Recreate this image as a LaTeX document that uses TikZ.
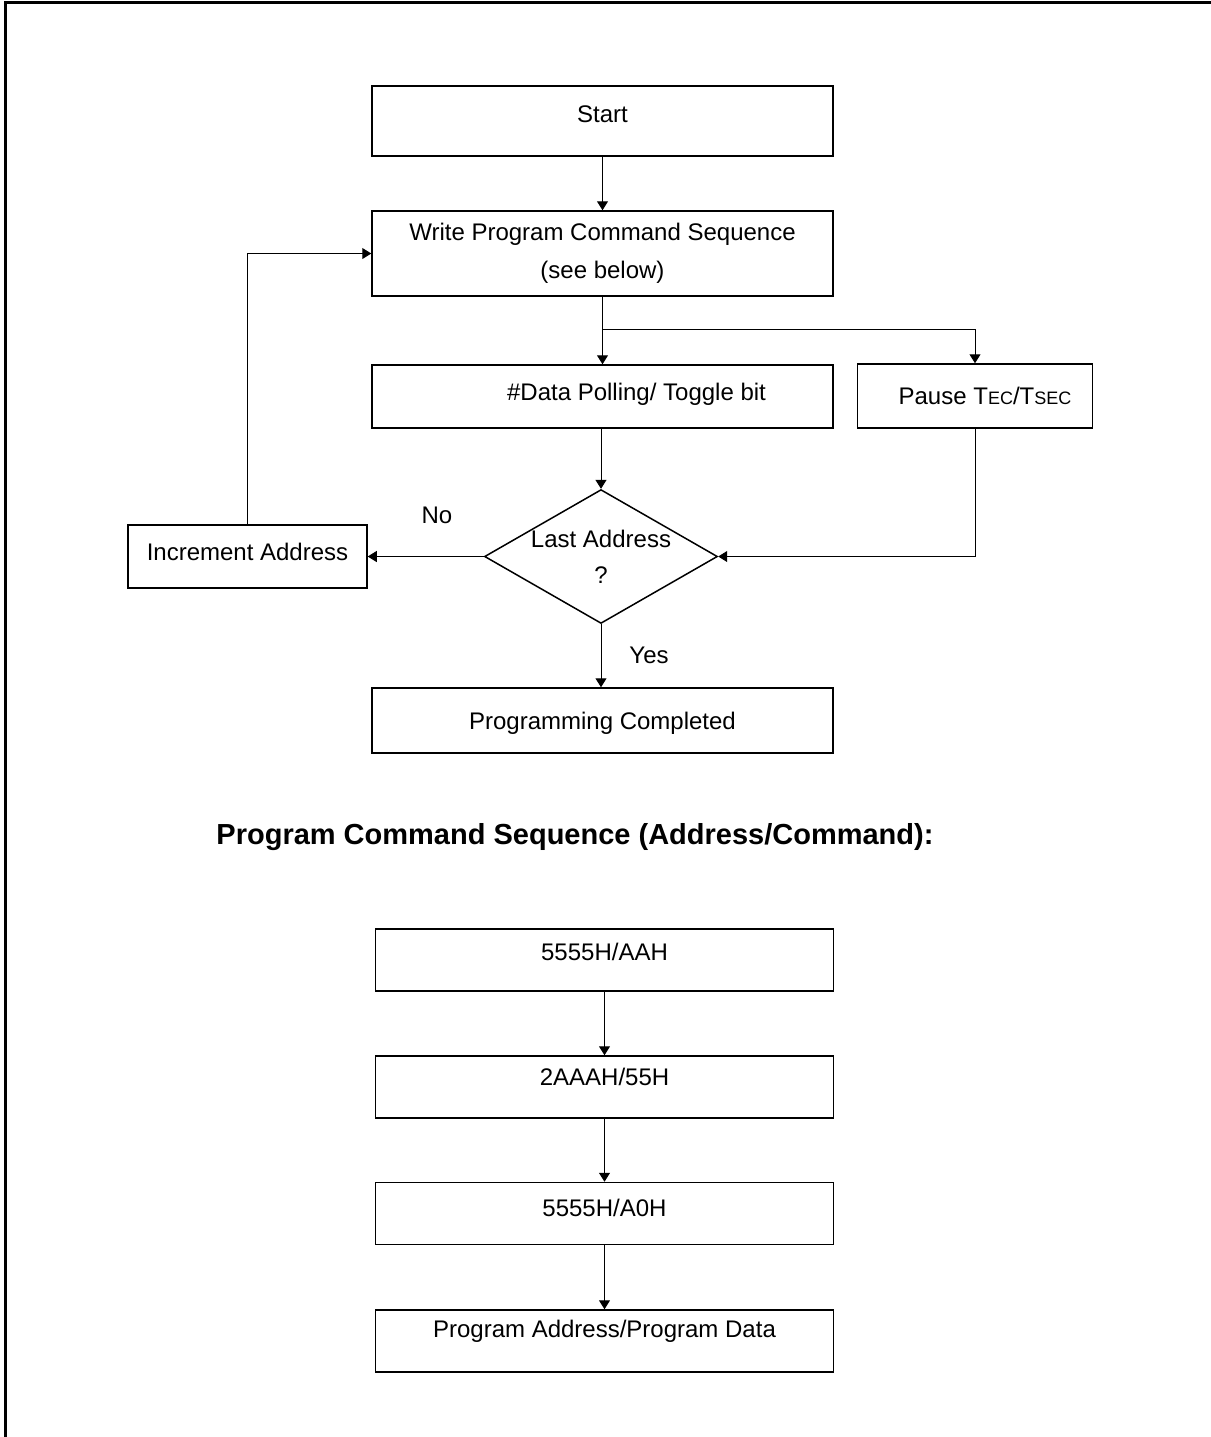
\documentclass[tikz,border=0pt]{standalone}
\usepackage{fontspec}
\setmainfont{Liberation Sans}
\usetikzlibrary{positioning,arrows.meta,shapes.geometric}

\begin{document}
\begin{tikzpicture}[x=0.5pt,y=-0.5pt,>={Triangle[length=4.5pt,width=5.5pt]},
  every node/.style={font=\fontsize{12}{14}\selectfont},
  box/.style={draw,line width=0.75pt,inner sep=0pt,text height=8.6pt,text depth=0pt},
  decision/.style={diamond,draw,line width=0.75pt,aspect=1.74,inner sep=0pt,minimum width=115.5pt,minimum height=66.5pt,align=center},
  flow/.style={line width=0.5pt}]
\useasboundingbox (0,0) rectangle (1211,1437);
\draw[line width=1.5pt] (5,1437) -- (5,2) -- (1211,2);

% program flow
\node[box,minimum width=230.5pt,minimum height=35pt,text depth=7pt] (start) at (602.5,121) {Start};
\node[box,minimum width=230.5pt,minimum height=42.5pt,text height=,text depth=,align=center] (write) at (602.5,253.5) {Write Program Command Sequence\\[5pt](see below)};
\node[box,minimum width=230.5pt,minimum height=31.5pt,text depth=4.5pt] (poll) at (602.5,396.5) {\hspace*{34pt}\#Data Polling/ Toggle bit};
\node[box,minimum width=117.5pt,minimum height=32pt] (pause) at (975,396) {\hspace*{10pt}Pause T{\fontsize{9}{10}\selectfont EC}/T{\fontsize{9}{10}\selectfont SEC}};
\node[decision] (last) at (601,556.5) {Last Address\\[4pt]?};
\node[box,minimum width=119.5pt,minimum height=31.5pt,text depth=4.5pt] (incr) at (247.5,556.5) {Increment Address};
\node[box,minimum width=230.5pt,minimum height=32.5pt] (done) at (602.5,720.5) {Programming Completed};
\node (lblno) at (437,515) {No};
\node (lblyes) at (649,655) {Yes};
\coordinate (split) at (602.5,329);

\draw[flow,->] (start) -- (write);
\draw[flow,->] (write) -- (poll);
\draw[flow,->] (split) -| (pause);
\draw[flow,->] (poll.south -| last) -- (last);
\draw[flow,->] (pause) |- (last);
\draw[flow,->] (last) -- (incr);
\draw[flow,->] (incr) |- (write);
\draw[flow,->] (last) -- (last |- done.north);

% command sequence
\node[font=\bfseries\fontsize{14.5}{17}\selectfont] (seqtitle) at (575,837) {Program Command Sequence (Address/Command):};
\node[box,minimum width=229pt,minimum height=31pt,text depth=8pt] (seq1) at (604.5,960) {5555H/AAH};
\node[box,minimum width=229pt,minimum height=31pt,text depth=10pt] (seq2) at (604.5,1087) {2AAAH/55H};
\node[box,minimum width=229pt,minimum height=31pt,text depth=6pt] (seq3) at (604.5,1213.5) {5555H/A0H};
\node[box,minimum width=229pt,minimum height=31pt,text depth=12pt] (seq4) at (604.5,1341) {Program Address/Program Data};

\draw[flow,->] (seq1) -- (seq2);
\draw[flow,->] (seq2) -- (seq3);
\draw[flow,->] (seq3) -- (seq4);
\end{tikzpicture}
\end{document}
